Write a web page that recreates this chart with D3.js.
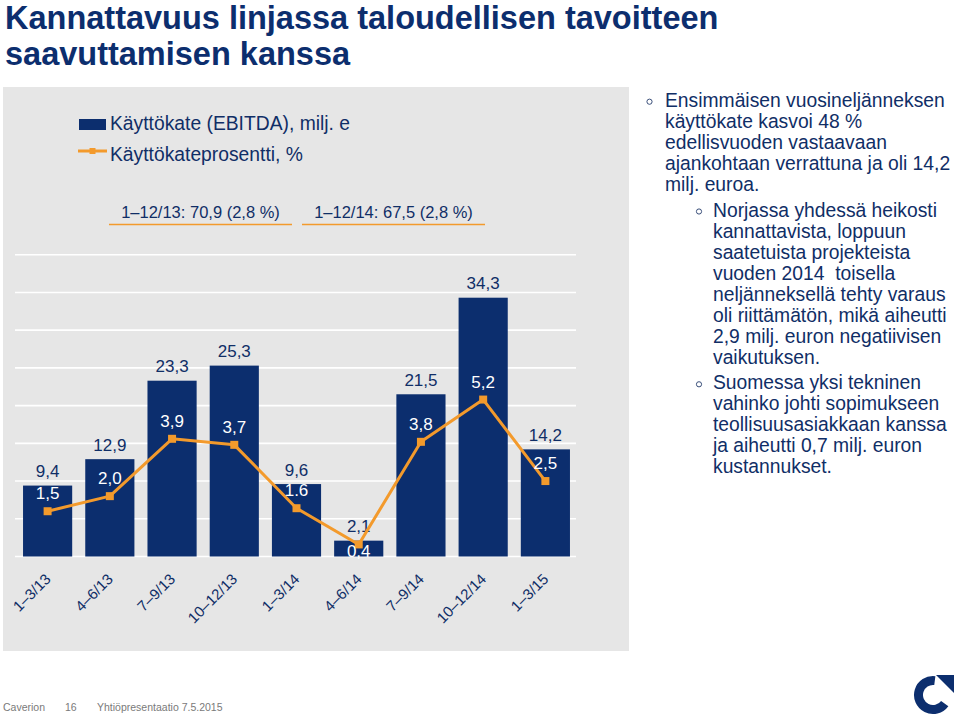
<!DOCTYPE html>
<html>
<head>
<meta charset="utf-8">
<script src="https://cdn.jsdelivr.net/npm/d3@7"></script>
<style>
  html, body { margin: 0; padding: 0; background: #ffffff; }
  svg { display: block; font-family: "Liberation Sans", Arial, Helvetica, sans-serif; }
  text { white-space: pre; }
</style>
</head>
<body>
<svg id="chart" width="959" height="717"></svg>
<script>
// ---------- data ----------
const categories = ["1–3/13", "4–6/13", "7–9/13", "10–12/13", "1–3/14", "4–6/14", "7–9/14", "10–12/14", "1–3/15"];
const ebitda = [9.4, 12.9, 23.3, 25.3, 9.6, 2.1, 21.5, 34.3, 14.2];
const ebitdaLabels = ["9,4", "12,9", "23,3", "25,3", "9,6", "2,1", "21,5", "34,3", "14,2"];
const ebitdaPct = [1.5, 2.0, 3.9, 3.7, 1.6, 0.4, 3.8, 5.2, 2.5];
const ebitdaPctLabels = ["1,5", "2,0", "3,9", "3,7", "1.6", "0,4", "3,8", "5,2", "2,5"];
const yTicks = [0, 5, 10, 15, 20, 25, 30, 35, 40];
const legendLabels = ["Käyttökate (EBITDA), milj. e", "Käyttökateprosentti, %"];
const periodLabels = ["1–12/13: 70,9 (2,8 %)", "1–12/14: 67,5 (2,8 %)"];
const titleLines = ["Kannattavuus linjassa taloudellisen tavoitteen", "saavuttamisen kanssa"];
const bullet1 = ["Ensimmäisen vuosineljänneksen", "käyttökate kasvoi 48 %", "edellisvuoden vastaavaan", "ajankohtaan verrattuna ja oli 14,2", "milj. euroa."];
const bullet2 = ["Norjassa yhdessä heikosti", "kannattavista, loppuun", "saatetuista projekteista", "vuoden 2014  toisella", "neljänneksellä tehty varaus", "oli riittämätön, mikä aiheutti", "2,9 milj. euron negatiivisen", "vaikutuksen."];
const bullet3 = ["Suomessa yksi tekninen", "vahinko johti sopimukseen", "teollisuusasiakkaan kanssa", "ja aiheutti 0,7 milj. euron", "kustannukset."];
const footer = ["Caverion", "16", "Yhtiöpresentaatio 7.5.2015"];

// ---------- style ----------
const NAVY = "#0c2e6e";
const TEXT = "#102e66";
const ORANGE = "#f39a2c";
const PANEL = "#e6e6e6";

const svg = d3.select("#chart");

// Title
svg.append("g").selectAll("text").data(titleLines).join("text")
  .attr("x", 5).attr("y", (d, i) => 29 + i * 36)
  .attr("font-size", 32.5).attr("font-weight", "bold").attr("fill", NAVY)
  .text(d => d);

// Panel
svg.append("rect").attr("x", 3).attr("y", 87).attr("width", 626).attr("height", 564).attr("fill", PANEL);

// Scales
const x = d3.scaleBand().domain(categories).range([16.5, 576.5]).paddingInner(0.21).paddingOuter(0.105);
const y = d3.scaleLinear().domain([0, 40]).range([556.5, 254.7]);
const y2 = d3.scaleLinear().domain([0, 10]).range([556.5, 254.7]);

// Gridlines
svg.append("g").selectAll("line").data(yTicks).join("line")
  .attr("x1", 15).attr("x2", 576)
  .attr("y1", d => y(d)).attr("y2", d => y(d))
  .attr("stroke", "#ffffff").attr("stroke-width", 1.6);

// Bars
svg.append("g").selectAll("rect").data(ebitda).join("rect")
  .attr("x", (d, i) => x(categories[i]))
  .attr("width", x.bandwidth())
  .attr("y", d => y(d))
  .attr("height", d => y(0) - y(d))
  .attr("fill", NAVY);

// Bar labels
svg.append("g").selectAll("text").data(ebitda).join("text")
  .attr("x", (d, i) => x(categories[i]) + x.bandwidth() / 2)
  .attr("y", d => y(d) - 8.5)
  .attr("text-anchor", "middle").attr("font-size", 17).attr("fill", TEXT)
  .text((d, i) => ebitdaLabels[i]);

// Line
const cx = i => x(categories[i]) + x.bandwidth() / 2;
const line = d3.line().x((d, i) => cx(i)).y(d => y2(d));
svg.append("path").datum(ebitdaPct).attr("d", line)
  .attr("fill", "none").attr("stroke", ORANGE).attr("stroke-width", 3).attr("stroke-linejoin", "round");
svg.append("g").selectAll("rect").data(ebitdaPct).join("rect")
  .attr("x", (d, i) => cx(i) - 4).attr("y", d => y2(d) - 4)
  .attr("width", 8).attr("height", 8).attr("fill", ORANGE);

// Percentage labels (above marker, or below when the bar is too short)
svg.append("g").selectAll("text").data(ebitdaPct).join("text")
  .attr("x", (d, i) => cx(i))
  .attr("y", (d, i) => (y(ebitda[i]) > y2(d) - 20) ? y2(d) + 12.5 : y2(d) - 12)
  .attr("text-anchor", "middle").attr("font-size", 17).attr("fill", "#ffffff")
  .text((d, i) => ebitdaPctLabels[i]);

// X axis labels
svg.append("g").selectAll("text").data(categories).join("text")
  .attr("transform", (d, i) => `translate(${cx(i) + 4},${580}) rotate(-45)`)
  .attr("text-anchor", "end").attr("font-size", 15).attr("fill", TEXT)
  .text(d => d);

// Legend
svg.append("rect").attr("x", 79).attr("y", 119).attr("width", 27).attr("height", 11).attr("fill", NAVY);
svg.append("line").attr("x1", 78).attr("x2", 107).attr("y1", 151).attr("y2", 151)
  .attr("stroke", ORANGE).attr("stroke-width", 3);
svg.append("rect").attr("x", 89.5).attr("y", 148).attr("width", 6).attr("height", 6).attr("fill", ORANGE);
svg.append("g").selectAll("text").data(legendLabels).join("text")
  .attr("x", 110).attr("y", (d, i) => 130 + i * 31)
  .attr("font-size", 19.3).attr("fill", TEXT)
  .text(d => d);

// Period summaries
const periodSpans = [[109, 292], [302, 485]];
periodLabels.forEach((t, i) => {
  const [a, b] = periodSpans[i];
  svg.append("text").attr("x", (a + b) / 2).attr("y", 218)
    .attr("text-anchor", "middle").attr("font-size", 16.5).attr("fill", TEXT).text(t);
  svg.append("line").attr("x1", a).attr("x2", b).attr("y1", 224.5).attr("y2", 224.5)
    .attr("stroke", ORANGE).attr("stroke-width", 1.5);
});

// Right-hand text
function bulletBlock(lines, bx, tx, y0) {
  svg.append("circle").attr("cx", bx).attr("cy", y0 - 5).attr("r", 2.6)
    .attr("fill", "none").attr("stroke", "#3a4f7a").attr("stroke-width", 1);
  svg.append("g").selectAll("text").data(lines).join("text")
    .attr("x", tx).attr("y", (d, i) => y0 + i * 21)
    .attr("font-size", 19.3).attr("fill", TEXT)
    .text(d => d);
}
bulletBlock(bullet1, 649.5, 665, 106.7);
bulletBlock(bullet2, 699, 713, 216.5);
bulletBlock(bullet3, 699, 713, 389.3);

// Footer
const footerX = [3, 65, 97];
svg.append("g").selectAll("text").data(footer).join("text")
  .attr("x", (d, i) => footerX[i]).attr("y", 711)
  .attr("font-size", 10.5).attr("fill", "#7a7a7a")
  .text(d => d);

// Logo
const lg = svg.append("g").attr("transform", "translate(933,695)");
lg.append("path")
  .attr("d", d3.arc().innerRadius(10).outerRadius(19).startAngle(Math.PI * 0.7).endAngle(Math.PI * 2.04)())
  .attr("fill", NAVY);
lg.append("path").attr("d", "M3,-20 L21,-20 L21,-2 Z").attr("fill", NAVY);
</script>
</body>
</html>
